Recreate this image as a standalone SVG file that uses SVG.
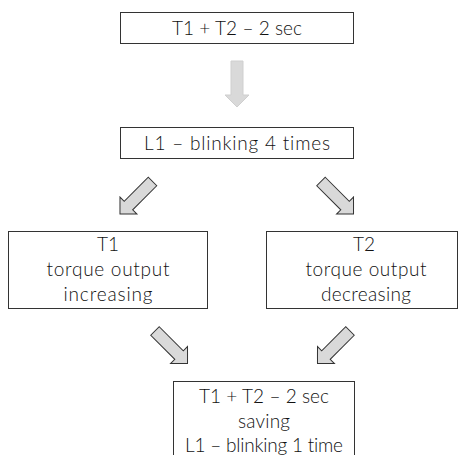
<svg xmlns="http://www.w3.org/2000/svg" width="460" height="455" viewBox="0 0 460 455">
<defs>
<style>
.box{fill:#fff;stroke:#333;stroke-width:1}
.t{font-family:Lato,"DejaVu Sans Condensed",sans-serif;font-size:19px;fill:#111;text-anchor:middle;font-weight:300;font-variant-ligatures:none;font-feature-settings:"liga" 0}
.arr{fill:#d9d9d9;stroke:#333;stroke-width:1;stroke-linejoin:miter}
.arr2{fill:#d9d9d9;stroke:#cfcfcf;stroke-width:1}
</style>
<path id="ar" d="M0,-6 L34,-6 L34,-12 L46,0 L34,12 L34,6 L0,6 Z"/>
</defs>
<rect width="460" height="455" fill="#fff"/>
<g id="connectors">
<use href="#ar" class="arr2" transform="translate(237,61) rotate(90)"/>
<use href="#ar" class="arr" transform="translate(152.5,181.5) rotate(135)"/>
<use href="#ar" class="arr" transform="translate(321,181.5) rotate(45)"/>
<use href="#ar" class="arr" transform="translate(155,331) rotate(45)"/>
<use href="#ar" class="arr" transform="translate(350,331) rotate(135)"/>
</g>
<g id="n1">
<rect class="box" x="120.5" y="12.5" width="233" height="31"/>
<text class="t" x="237" y="35" textLength="130" lengthAdjust="spacing">T1 + T2 – 2 sec</text>
</g>
<g id="n2">
<rect class="box" x="120.5" y="127.5" width="233" height="31"/>
<text class="t" x="237" y="150" textLength="186" lengthAdjust="spacing">L1 – blinking 4 times</text>
</g>
<g id="n3">
<rect class="box" x="8.5" y="231.5" width="199" height="77"/>
<text class="t" x="108" y="251">T1</text>
<text class="t" x="108" y="276" textLength="123" lengthAdjust="spacing">torque output</text>
<text class="t" x="108" y="301" textLength="89" lengthAdjust="spacing">increasing</text>
</g>
<g id="n4">
<rect class="box" x="266.5" y="231.5" width="191" height="77"/>
<text class="t" x="364" y="251">T2</text>
<text class="t" x="366" y="276" textLength="121" lengthAdjust="spacing">torque output</text>
<text class="t" x="366" y="301" textLength="90" lengthAdjust="spacing">decreasing</text>
</g>
<g id="n5">
<rect class="box" x="173.5" y="381.5" width="181" height="90"/>
<text class="t" x="264" y="403" textLength="130" lengthAdjust="spacing">T1 + T2 – 2 sec</text>
<text class="t" x="264" y="428" textLength="52" lengthAdjust="spacing">saving</text>
<text class="t" x="264" y="452" textLength="158" lengthAdjust="spacing">L1 – blinking 1 time</text>
</g>
</svg>
